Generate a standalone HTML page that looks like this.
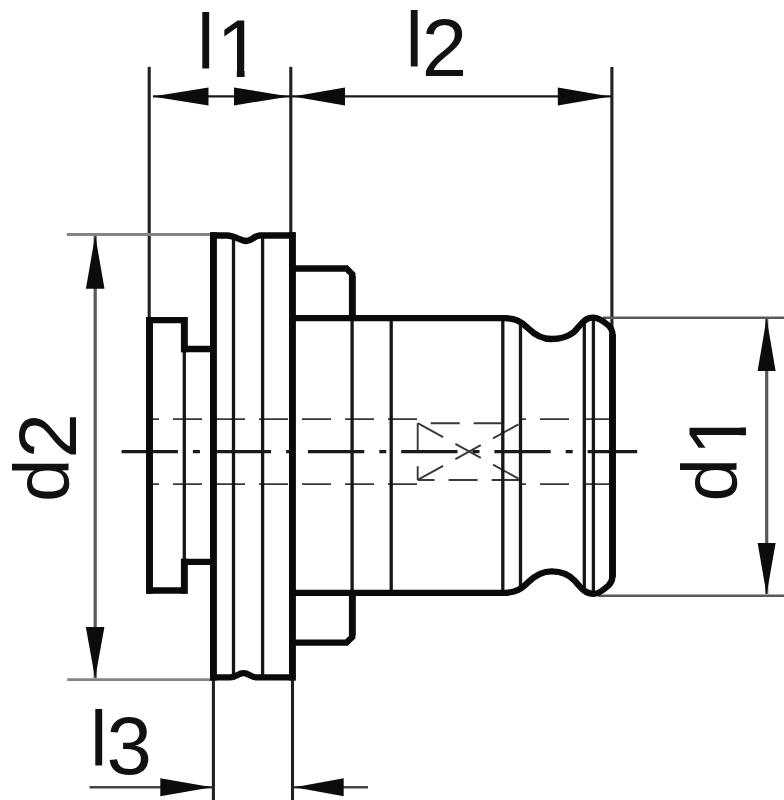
<!DOCTYPE html>
<html><head><meta charset="utf-8"><title>Drawing</title>
<style>
html,body{margin:0;padding:0;background:#fff;}
svg{display:block;}
text{font-family:"Liberation Sans",sans-serif;fill:#111;}
.L{font-size:78.4px;}
.D{font-size:81.6px;}
</style></head><body>
<svg width="784" height="800" viewBox="0 0 784 800">
<defs>
  <!-- hides the foot serif of the digit one -->
  <clipPath id="nofoot"><rect x="0" y="-62" width="50" height="55"/><rect x="20.2" y="-7.5" width="7.8" height="8.5"/></clipPath>
</defs>
<rect width="784" height="800" fill="#fff"/>

<!-- hidden (dashed) lines -->
<g fill="none" stroke="#383838" stroke-width="1.9" stroke-dasharray="29 14">
  <path d="M417,419.1 H150"/>
  <path d="M417,484.1 H150"/>
  <path d="M612,419.1 H520.6"/>
  <path d="M612,484.1 H520.6"/>
  <path d="M502.7,423.2 H417.7"/>
  <path d="M520.6,480 H417.7"/>
  <path d="M417.7,423.2 V480"/>
  <path d="M417.7,423.2 L520.6,479.8"/>
  <path d="M417.7,479.8 L520.6,423.2"/>
</g>

<!-- thin visible lines -->
<g fill="none" stroke="#161616" stroke-width="3.3">
  <path d="M184.3,349 V561.8"/>
  <path d="M233.5,236 V677"/>
  <path d="M262.6,236 V677"/>
  <path d="M352.1,318 V593"/>
  <path d="M391.2,318 V593"/>
  <path d="M502.8,318 V593"/>
  <path d="M520.5,321 V590"/>
  <path d="M584.3,320 V590"/>
  <path d="M593.4,318 V593"/>
</g>

<!-- extension lines (vertical) -->
<g fill="none" stroke="#202020" stroke-width="3.1">
  <path d="M149.2,66.8 V320"/>
  <path d="M290.8,66.8 V235"/>
  <path d="M611.9,67 V333"/>
  <path d="M213.4,677 V800"/>
  <path d="M292.5,677 V800"/>
</g>
<!-- extension lines (horizontal) + dimension lines -->
<g fill="none" stroke="#848484" stroke-width="2.8">
  <path d="M66.8,234.5 H213"/>
  <path d="M67.2,679.6 H213"/>
</g>
<g fill="none" stroke="#5a5a5a" stroke-width="2.4">
  <path d="M603,317.7 H784"/>
  <path d="M598,595.7 H784"/>
</g>
<g fill="none" stroke="#1a1a1a" stroke-width="2.4">
  <path d="M153,96.4 H611"/>
</g>
<g fill="none" stroke="#585858" stroke-width="3.2">
  <path d="M95.2,236 V678"/>
  <path d="M766.7,319 V594"/>
</g>
<g fill="none" stroke="#444" stroke-width="2.6">
  <path d="M89.5,787.3 H212"/>
  <path d="M294,787.3 H368"/>
</g>

<!-- arrows -->
<g fill="#0c0c0c" stroke="none">
  <path d="M152.5,96.4 L208.5,87.4 V105.4 Z"/>
  <path d="M289.5,96.4 L234,87.4 V105.4 Z"/>
  <path d="M293,96.4 L345,87.4 V105.4 Z"/>
  <path d="M610.3,96.4 L557.8,87.4 V105.4 Z"/>
  <path d="M95.2,235.3 L85.9,288.8 H104.5 Z"/>
  <path d="M95.1,678.5 L85.8,627 H104.4 Z"/>
  <path d="M766.6,318.2 L757.6,371 H775.6 Z"/>
  <path d="M766.6,594.5 L757.6,542.9 H775.6 Z"/>
  <path d="M212,787.3 L160.3,778.3 V796.3 Z"/>
  <path d="M294.5,787.3 L343.7,778.3 V796.3 Z"/>
</g>

<!-- centre line -->
<path d="M121.6,451.6 H637.2" fill="none" stroke="#1a1a1a" stroke-width="3.4" stroke-dasharray="56.3 15 7 14.9"/>

<!-- thick outline -->
<g fill="none" stroke="#0a0a0a" stroke-width="6.3" stroke-linejoin="miter" stroke-linecap="butt">
  <!-- left part -->
  <path d="M213.4,349 H184.3 V320.1 H149.5 V590.5 H184.3 V561.8 H213.4"/>
  <!-- flange -->
  <path d="M213.4,235.5 H227 C236,235.8 240,241 246.5,241 C252,241 254,235.5 260,235.5 H292.4 V677.4 H257 C251,677.4 249,673.2 243.6,673.2 C238,673.2 236,677.4 230,677.4 H213.4 Z"/>
  <!-- collar -->
  <path d="M292.4,268.5 H346.5 L352.3,274.3 V318.2"/>
  <path d="M292.4,642.7 H346.5 L352.3,636.9 V592.8"/>
  <!-- body -->
  <path d="M292.4,318.2 H505 C515,318.2 521,321 528.4,328.4 C536,336 543,339 551.6,339 C560,339 567,337.3 573,332.8 C579,328.3 583,317.7 592.1,317.7 C598,317 604,321.5 608.5,325.5 C611.5,328.2 612.5,330.5 612.5,335 V576 C612.5,580 611.5,582.5 608.5,585.5 C604,589.5 599,593.9 593.9,593.9 C585,593.9 580,587 575,581 C569,574 561,571.3 551.6,571.3 C543,571.3 536,574.5 528.4,582 C521,589.5 515,592.8 505,592.8 H292.4"/>
</g>
<!-- vertical edges are slightly heavier -->
<g fill="none" stroke="#0a0a0a" stroke-width="6.8" stroke-linecap="butt">
  <path d="M149.5,316.95 V593.65"/>
  <path d="M184.3,316.95 V352.15 M184.3,558.65 V593.65"/>
  <path d="M213.4,232.35 V680.55"/>
  <path d="M292.4,232.35 V680.55"/>
  <path d="M352.3,276 V318.2 M352.3,635.2 V592.8"/>
  <path d="M612.5,334 V577"/>
</g>

<!-- labels -->
<text class="L" x="197.1" y="68.9">l</text>
<g transform="translate(216.6,76.5)"><text class="D" x="0" y="0" clip-path="url(#nofoot)">1</text></g>
<text class="L" x="405.4" y="67.4">l</text><text class="D" x="421.8" y="75.8">2</text>
<text class="L" x="90" y="765.8">l</text><text class="D" x="106.6" y="774.2">3</text>
<g transform="translate(69,502.1) rotate(-90)"><text class="L" x="0" y="0">d</text><text class="D" x="43.5" y="6.9">2</text></g>
<g transform="translate(737.25,501.5) rotate(-90)"><text class="L" x="0" y="0">d</text><g transform="translate(46,8.5)"><text class="D" x="0" y="0" clip-path="url(#nofoot)">1</text></g></g>
</svg>
</body></html>
